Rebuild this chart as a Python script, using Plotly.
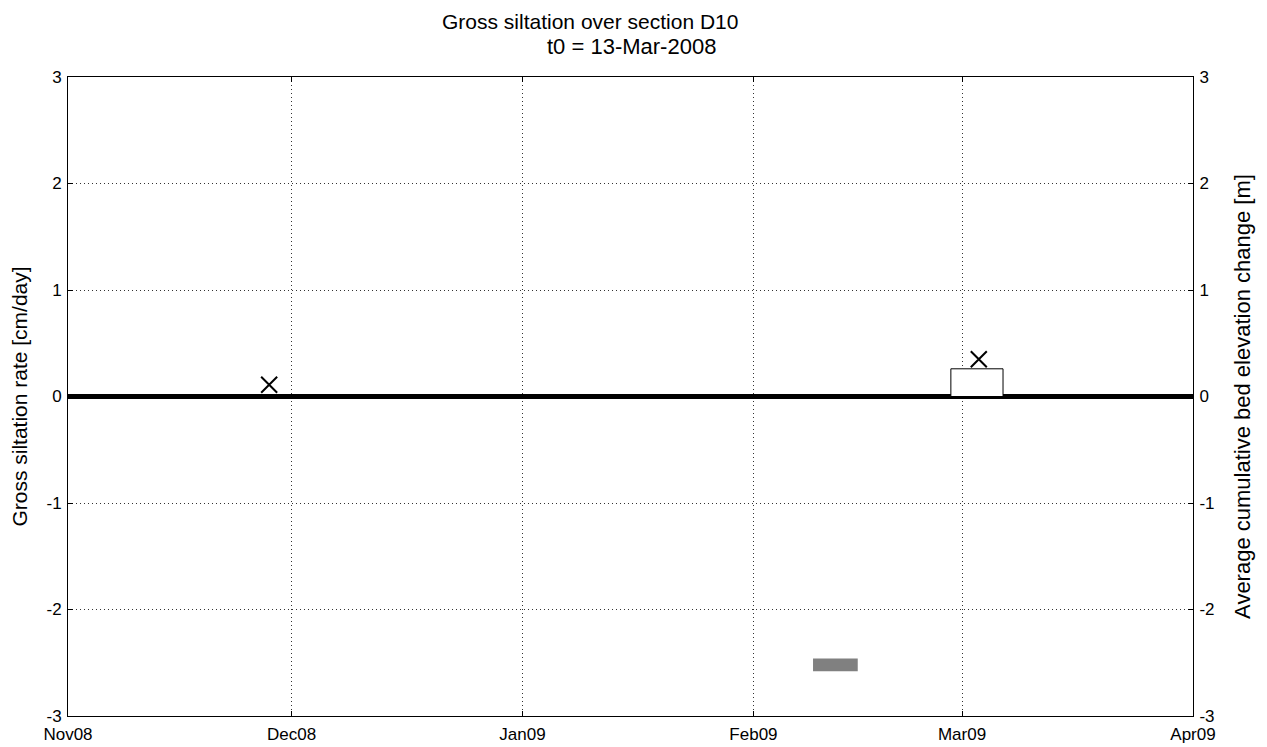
import plotly.graph_objects as go

# Data
tick_dates = ["2008-11-01", "2008-12-01", "2009-01-01", "2009-02-01", "2009-03-01", "2009-04-01"]
tick_labels = ["Nov08", "Dec08", "Jan09", "Feb09", "Mar09", "Apr09"]
y_ticks = [-3, -2, -1, 0, 1, 2, 3]
y_tick_labels = ["-3", "-2", "-1", "0", "1", "2", "3"]

title_lines = ["Gross siltation over section D10", "t0 = 13-Mar-2008"]

rate_dates = ["2009-03-03"]
rate_values = [0.26]
rate_width_days = [7]

cum_dates = ["2008-11-28", "2009-03-03 06:00"]
cum_values = [0.11, 0.35]

gray_dates = ["2009-02-12"]
gray_base = [-2.58]
gray_height = [0.12]
gray_width_days = [6]

DAY_MS = 86400000

fig = go.Figure()

fig.add_trace(go.Bar(
    x=rate_dates, y=rate_values, width=[d * DAY_MS for d in rate_width_days],
    marker=dict(color="white", line=dict(color="black", width=1)),
    showlegend=False, yaxis="y",
))
fig.add_trace(go.Bar(
    x=gray_dates, y=gray_height, base=gray_base,
    width=[d * DAY_MS for d in gray_width_days],
    marker=dict(color="#808080", line=dict(width=0)),
    showlegend=False, yaxis="y",
))
fig.add_trace(go.Scatter(
    x=cum_dates, y=cum_values, mode="markers",
    marker=dict(symbol="x-thin", size=16, line=dict(color="black", width=2)),
    showlegend=False, yaxis="y2",
))

font_family = "Liberation Sans, Arial, sans-serif"
grid = dict(showgrid=True, gridcolor="#333333", griddash="1px,3px", gridwidth=1)

# title lines as annotations (plot area 68..1193 x, 77..716 y in screen px)
fig.add_annotation(text=title_lines[0], xref="paper", yref="paper",
                   x=(590 - 68) / 1125, y=(716 - 21) / 639, xanchor="center", yanchor="middle",
                   showarrow=False, font=dict(size=21, family=font_family, color="black"))
fig.add_annotation(text=title_lines[1], xref="paper", yref="paper",
                   x=(631 - 68) / 1125, y=(716 - 47) / 639, xanchor="center", yanchor="middle",
                   showarrow=False, font=dict(size=22, family=font_family, color="black"))

fig.update_layout(
    width=1251, height=739,
    margin=dict(l=60, r=66, t=69, b=31, autoexpand=False),
    paper_bgcolor="white", plot_bgcolor="white",
    barmode="overlay",
    font=dict(family=font_family, size=17, color="black"),
    xaxis=dict(
        type="date", range=[tick_dates[0], tick_dates[-1]],
        tickvals=tick_dates, ticktext=tick_labels,
        ticks="inside", ticklen=5, tickcolor="black",
        showline=True, linecolor="black", linewidth=1, mirror="ticks",
        tickfont=dict(size=17), zeroline=False, ticklabelstandoff=3,
        automargin=False,
        **grid,
    ),
    yaxis=dict(
        range=[-3, 3], tickvals=y_ticks, ticktext=y_tick_labels,
        ticks="inside", ticklen=5, tickcolor="black",
        showline=True, linecolor="black", linewidth=1,
        zeroline=True, zerolinecolor="black", zerolinewidth=5,
        title=dict(text="Gross siltation rate [cm/day]", font=dict(size=21), standoff=14),
        tickfont=dict(size=17), ticklabelstandoff=2, automargin=False,
        **grid,
    ),
    yaxis2=dict(
        range=[-3, 3], tickvals=y_ticks, ticktext=y_tick_labels, overlaying="y", side="right",
        ticks="inside", ticklen=5, tickcolor="black",
        showline=True, linecolor="black", linewidth=1,
        showgrid=False, zeroline=False,
        title=dict(text="Average cumulative bed elevation change [m]", font=dict(size=22), standoff=21),
        tickfont=dict(size=17), ticklabelstandoff=2, automargin=False,
    ),
)

fig.write_html("out.html")
